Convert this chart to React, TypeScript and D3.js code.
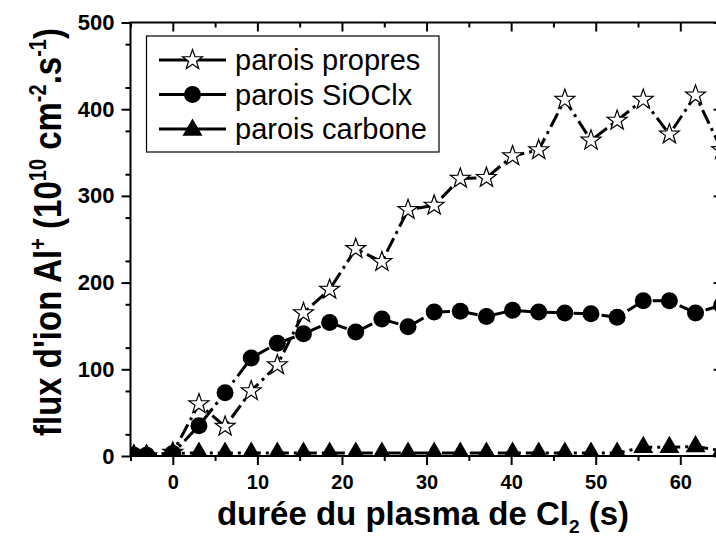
import React, { useRef, useEffect } from 'react';
import * as d3 from 'd3';

// plasma time (s) of each measurement
const times: number[] = [
    -4.6, -3.1, 0, 3.09, 6.18, 9.27, 12.36, 15.45, 18.54, 21.63, 24.72, 27.81,
    30.9, 33.99, 37.08, 40.17, 43.26, 46.35, 49.44, 52.53, 55.62, 58.71, 61.8, 64.89
];

// Al+ ion flux (10^10 cm-2 s-1)
const paroisPropres: number[] = [
    0, 0, 4, 60, 34, 75, 105, 165, 192, 239, 224, 284,
    289, 320, 321, 346, 353, 411, 364, 387, 411, 371, 416, 353
];
const paroisSiOClx: number[] = [
    1, 1, 3, 35, 73, 113, 130, 141, 154, 143, 158, 149,
    166, 167, 161, 168, 166, 165, 164, 160, 179, 179, 165, 174
];
const paroisCarbone: number[] = [
    1, 1, 3, 3.5, 3.5, 3.5, 3.5, 3.5, 3.5, 3.5, 3.5, 3.5,
    3.5, 3.5, 3.5, 3.5, 3.5, 3.5, 3.5, 3.5, 10, 10, 11, 6
];

const legendLabels: string[] = ['parois propres', 'parois SiOClx', 'parois carbone'];
const xMajorTicks: number[] = [0, 10, 20, 30, 40, 50, 60];
const xMinorTicks: number[] = [-5, 5, 15, 25, 35, 45, 55, 65];
const yMajorTicks: number[] = [0, 100, 200, 300, 400, 500];
const yMinorTicks: number[] = d3.range(25, 500, 50);

const W = 716;
const H = 538;
const FONT = "'Liberation Sans', Arial, sans-serif";

function starPath(R: number): string {
    const r = R * 0.4;
    const pts: [number, number][] = [];
    for (let i = 0; i < 10; i++) {
        const a = -Math.PI / 2 + i * Math.PI / 5;
        const rr = i % 2 === 0 ? R : r;
        pts.push([rr * Math.cos(a), rr * Math.sin(a)]);
    }
    return 'M' + pts.map(p => p.join(',')).join('L') + 'Z';
}

// triangle centred on its centroid
function trianglePath(side: number): string {
    const h = side * Math.sqrt(3) / 2;
    return `M0,${-2 * h / 3}L${side / 2},${h / 3}L${-side / 2},${h / 3}Z`;
}

function drawMarker(g: any, kind: string, cx: number, cy: number) {
    if (kind === 'star') {
        g.append('path').attr('d', starPath(10.5)).attr('transform', `translate(${cx},${cy})`)
            .attr('fill', '#fff').attr('stroke', '#000').attr('stroke-width', 1.2);
    } else if (kind === 'circle') {
        g.append('circle').attr('cx', cx).attr('cy', cy).attr('r', 8.5).attr('fill', '#000');
    } else {
        g.append('path').attr('d', trianglePath(20)).attr('transform', `translate(${cx},${cy})`)
            .attr('fill', '#000');
    }
}

function App() {
    const ref = useRef(null);

    useEffect(() => {
        if (!ref.current) return;
        const svg: any = d3.select(ref.current);
        svg.selectAll('*').remove();

        const x = d3.scaleLinear().domain([-5, 65]).range([130.5, 722.6]);
        const y = d3.scaleLinear().domain([0, 500]).range([456, 22.5]);
        const [x0, x1] = x.range();
        const [y0, y1] = y.range();

        svg.append('defs').append('clipPath').attr('id', 'plotclip')
            .append('rect').attr('x', x0).attr('y', y1).attr('width', x1 - x0).attr('height', y0 - y1);

        const series = [
            { kind: 'star', values: paroisPropres },
            { kind: 'circle', values: paroisSiOClx },
            { kind: 'triangle', values: paroisCarbone },
        ];

        const line = d3.line<number>()
            .x((_, i) => x(times[i]))
            .y(d => y(d));

        const plot = svg.append('g').attr('clip-path', 'url(#plotclip)');
        series.forEach(s => {
            plot.append('path')
                .attr('d', line(s.values))
                .attr('fill', 'none')
                .attr('stroke', '#000')
                .attr('stroke-width', 3)
                .attr('stroke-dasharray', '15,5,3,5');
            const mg = plot.append('g');
            s.values.forEach((v, i) => drawMarker(mg, s.kind, x(times[i]), y(v)));
        });

        // axes
        const styleAxis = (g: any) => {
            g.select('.domain').remove();
            g.selectAll('line').attr('stroke', '#000').attr('stroke-width', 2);
            g.selectAll('text').attr('fill', '#000').attr('font-family', FONT).attr('font-weight', 'bold');
        };

        svg.append('g').attr('transform', `translate(0,${y0})`)
            .call(d3.axisBottom(x).tickValues(xMajorTicks).tickSize(9).tickPadding(10).tickFormat(d3.format('d')))
            .call(styleAxis)
            .call((g: any) => g.selectAll('text').attr('font-size', 20));
        svg.append('g').attr('transform', `translate(0,${y0})`)
            .call(d3.axisBottom(x).tickValues(xMinorTicks).tickSize(5).tickFormat(() => ''))
            .call(styleAxis);
        svg.append('g').attr('transform', `translate(0,${y1})`)
            .call(d3.axisTop(x).tickValues(xMajorTicks).tickSize(-9).tickFormat(() => ''))
            .call(styleAxis);
        svg.append('g').attr('transform', `translate(0,${y1})`)
            .call(d3.axisTop(x).tickValues(xMinorTicks).tickSize(-5).tickFormat(() => ''))
            .call(styleAxis);

        svg.append('g').attr('transform', `translate(${x0},0)`)
            .call(d3.axisLeft(y).tickValues(yMajorTicks).tickSize(9).tickPadding(7).tickFormat(d3.format('d')))
            .call(styleAxis)
            .call((g: any) => g.selectAll('text').attr('font-size', 22));
        svg.append('g').attr('transform', `translate(${x0},0)`)
            .call(d3.axisLeft(y).tickValues(yMinorTicks).tickSize(5).tickFormat(() => ''))
            .call(styleAxis);
        svg.append('g').attr('transform', `translate(${x1},0)`)
            .call(d3.axisRight(y).tickValues(yMajorTicks).tickSize(-9).tickFormat(() => ''))
            .call(styleAxis);
        svg.append('g').attr('transform', `translate(${x1},0)`)
            .call(d3.axisRight(y).tickValues(yMinorTicks).tickSize(-5).tickFormat(() => ''))
            .call(styleAxis);

        svg.append('rect')
            .attr('x', x0).attr('y', y1).attr('width', x1 - x0).attr('height', y0 - y1)
            .attr('fill', 'none').attr('stroke', '#000').attr('stroke-width', 2);

        // legend
        const lg = svg.append('g');
        lg.append('rect').attr('x', 146.5).attr('y', 36).attr('width', 292.5).attr('height', 116)
            .attr('fill', '#fff').attr('stroke', '#000').attr('stroke-width', 1.2);
        const rowY = [60, 94.5, 129];
        series.forEach((s, i) => {
            lg.append('line').attr('x1', 159).attr('x2', 226).attr('y1', rowY[i]).attr('y2', rowY[i])
                .attr('stroke', '#000').attr('stroke-width', 3);
            drawMarker(lg, s.kind, 192.5, rowY[i] + (s.kind === 'triangle' ? 1 : 0));
            lg.append('text').attr('x', 235).attr('y', rowY[i]).attr('dy', '0.35em')
                .attr('font-family', FONT).attr('font-size', 29).attr('fill', '#000')
                .text(legendLabels[i]);
        });

        // x title
        const xt = svg.append('text').attr('x', 423).attr('y', 525)
            .attr('text-anchor', 'middle')
            .attr('font-family', FONT).attr('font-weight', 'bold').attr('font-size', 33).attr('fill', '#000');
        xt.append('tspan').text('durée du plasma de Cl');
        xt.append('tspan').attr('font-size', 19).attr('dy', 8).text('2');
        xt.append('tspan').attr('dy', -8).text(' (s)');

        // y title
        const yt = svg.append('text').attr('transform', 'translate(61,232) scale(1.15,1) rotate(-90)')
            .attr('text-anchor', 'middle')
            .attr('font-family', FONT).attr('font-weight', 'bold').attr('font-size', 33).attr('fill', '#000');
        yt.append('tspan').text("flux d'ion Al");
        yt.append('tspan').attr('font-size', 20).attr('dy', -13).text('+');
        yt.append('tspan').attr('dy', 13).text(' (10');
        yt.append('tspan').attr('font-size', 20).attr('dy', -13).text('10');
        yt.append('tspan').attr('dy', 13).text(' cm');
        yt.append('tspan').attr('font-size', 20).attr('dy', -13).text('-2');
        yt.append('tspan').attr('dy', 13).text('.s');
        yt.append('tspan').attr('font-size', 20).attr('dy', -13).text('-1');
        yt.append('tspan').attr('dy', 13).text(')');
    }, []);

    return (
        <svg
            ref={ref}
            width={W}
            height={H}
            style={{ position: 'absolute', left: 0, top: 0, background: '#fff' }}
        />
    );
}

export default App;
